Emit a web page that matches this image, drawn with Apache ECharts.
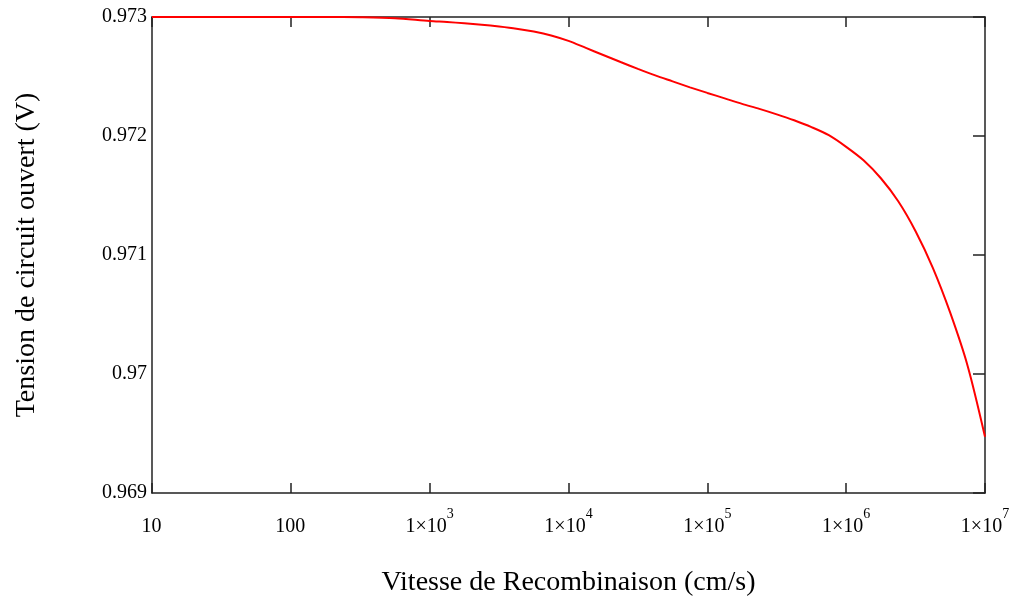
<!DOCTYPE html>
<html>
<head>
<meta charset="utf-8">
<script src="https://cdn.jsdelivr.net/npm/echarts@6/dist/echarts.min.js"></script>
<style>html,body{margin:0;padding:0;background:#fff}#c{width:1021px;height:603px}</style>
</head>
<body>
<div id="c"></div>
<script>
// Recombination velocity (cm/s)
const velocity = [10, 100, 178, 316, 562,
  1000, 1334, 1778, 2371, 3162, 4217, 5623, 7499,
  10000, 13335, 17783, 23714, 31623, 42170, 56234, 74989,
  100000, 133352, 177828, 237137, 316228, 421697, 562341, 749894,
  1000000, 1333521, 1778279, 2371374, 3162278, 4216965, 5623413, 7498942,
  10000000];
// Open-circuit voltage (V)
const voltage = [0.97300, 0.97300, 0.97300, 0.972998, 0.972990,
  0.972966, 0.972958, 0.972947, 0.972935, 0.972920, 0.972902, 0.972878, 0.972845,
  0.972799, 0.972740, 0.972681, 0.972622, 0.972564, 0.972509, 0.972459, 0.972409,
  0.972362, 0.972316, 0.972270, 0.972228, 0.972182, 0.972132, 0.972075, 0.972007,
  0.971909, 0.971796, 0.971645, 0.971452, 0.971200, 0.970890, 0.970513, 0.970068,
  0.969473];
const yTicks = [0.969, 0.97, 0.971, 0.972, 0.973];
const xTitle = 'Vitesse de Recombinaison (cm/s)';
const yTitle = 'Tension de circuit ouvert (V)';

const serif = '"Liberation Serif", "DejaVu Serif", serif';
const chart = echarts.init(document.getElementById('c'));

function xLabel(v) {
  const e = Math.round(Math.log10(v));
  if (e < 3) return '{b|' + String(Math.round(v)) + '}{sp| }';
  return '{b|1×10}{sup|' + e + '}';
}

const axisLine = {show: true, lineStyle: {color: '#222', width: 1.5}};
const tickStyle = {color: '#222', width: 1.5};
chart.setOption({
  animation: false,
  grid: {left: 152, right: 36, top: 17, bottom: 110},
  xAxis: [
    {
      type: 'log', logBase: 10, min: 10, max: 1e7,
      name: xTitle, nameLocation: 'middle', nameGap: 76,
      nameTextStyle: {fontFamily: serif, fontSize: 28, color: '#000'},
      axisLine: axisLine,
      axisTick: {show: true, inside: true, length: 10, lineStyle: tickStyle},
      splitLine: {show: false},
      minorTick: {show: false},
      axisLabel: {
        margin: 14, fontFamily: serif, fontSize: 20, color: '#000',
        formatter: xLabel,
        rich: {
          b: {fontFamily: serif, fontSize: 20, color: '#000', verticalAlign: 'bottom', lineHeight: 20},
          sup: {fontFamily: serif, fontSize: 14, color: '#000', verticalAlign: 'top', lineHeight: 30},
          sp: {fontFamily: serif, fontSize: 4, color: '#000', verticalAlign: 'top', lineHeight: 30}
        }
      }
    },
    {
      type: 'log', logBase: 10, min: 10, max: 1e7, position: 'top',
      axisLine: axisLine,
      axisTick: {show: true, inside: true, length: 10, lineStyle: tickStyle},
      axisLabel: {show: false}, splitLine: {show: false}
    }
  ],
  yAxis: [
    {
      type: 'value', min: 0.969, max: 0.973, interval: 0.001,
      name: yTitle, nameLocation: 'middle', nameGap: 111, nameRotate: 90,
      nameTextStyle: {fontFamily: serif, fontSize: 28, color: '#000'},
      axisLine: axisLine,
      axisTick: {show: false},
      splitLine: {show: false},
      axisLabel: {
        margin: 5, fontFamily: serif, fontSize: 20, color: '#000',
        formatter: function (v) { return String(parseFloat(v.toFixed(3))); }
      }
    },
    {
      type: 'value', min: 0.969, max: 0.973, interval: 0.001, position: 'right',
      axisLine: axisLine,
      axisTick: {show: true, inside: true, length: 12, lineStyle: tickStyle},
      axisLabel: {show: false}, splitLine: {show: false}
    }
  ],
  series: [{
    type: 'line',
    xAxisIndex: 0, yAxisIndex: 0,
    data: velocity.map((v, i) => [v, voltage[i]]),
    smooth: 0.3,
    showSymbol: false,
    lineStyle: {color: '#ff0000', width: 2},
    z: 1
  }]
});
</script>
</body>
</html>
